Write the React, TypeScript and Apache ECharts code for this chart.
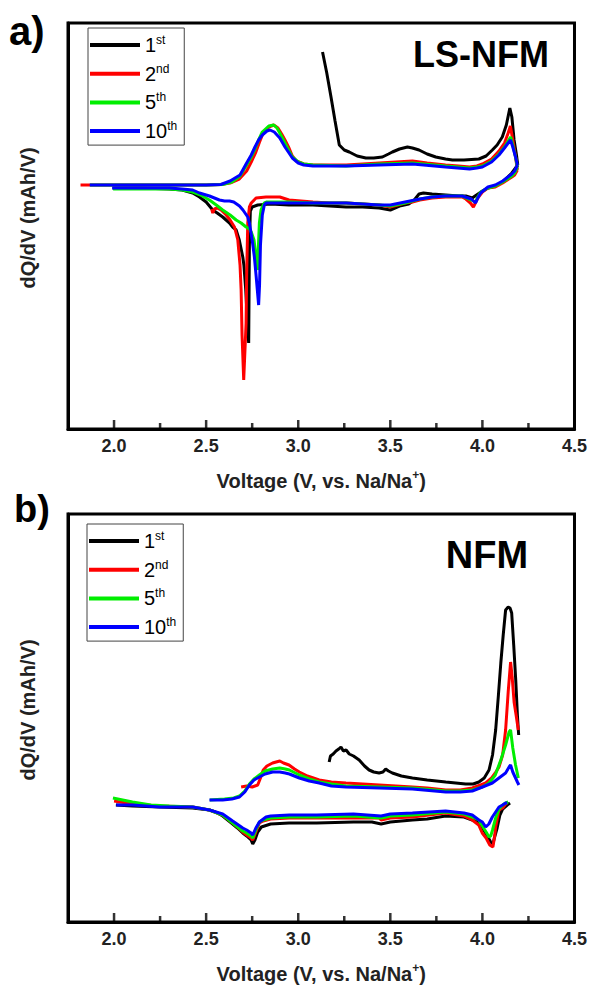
import React, { useEffect, useRef } from "react";
import * as echarts from "echarts";

const FONT = '"Liberation Sans", Arial, sans-serif';

const cycleNames = ["1st", "2nd", "5th", "10th"];
const cycleColors = ["#000000", "#ff0000", "#00ee00", "#0000ff"];
const xMajorTicks = [2.0, 2.5, 3.0, 3.5, 4.0, 4.5];
const xMinorTicks = [2.25, 2.75, 3.25, 3.75, 4.25];
const panelTitles = ["LS-NFM", "NFM"];
const panelTags = ["a)", "b)"];

// ---------- Panel a: LS-NFM (dQ/dV, arbitrary units) ----------
const lsCharge1st = [[3.132,133],[3.155,112],[3.178,88],[3.2,64],[3.223,40],[3.25,35],[3.277,33],[3.32,29],[3.367,27],[3.41,27],[3.457,28],[3.49,31],[3.511,33],[3.55,36],[3.593,38],[3.62,37],[3.656,35],[3.7,31],[3.747,28],[3.8,26],[3.837,25],[3.9,25],[3.981,26],[4.02,29],[4.054,35],[4.08,40],[4.108,48],[4.13,60],[4.149,77],[4.16,68],[4.172,45],[4.185,30],[4.192,20]];
const lsDischarge1st = [[4.192,20],[4.16,12],[4.11,3],[4.07,-1],[4.03,-3],[4.0,-6],[3.96,-11],[3.945,-13],[3.91,-11],[3.873,-11],[3.8,-10],[3.727,-9],[3.68,-8],[3.656,-9],[3.63,-15],[3.6,-19],[3.55,-21],[3.5,-25],[3.44,-23],[3.35,-22],[3.26,-22],[3.17,-21],[3.08,-20],[2.95,-20],[2.85,-19],[2.78,-20],[2.75,-22],[2.74,-26],[2.735,-60],[2.731,-158],[2.725,-140],[2.715,-105],[2.705,-80],[2.699,-72],[2.68,-55],[2.663,-45],[2.644,-42],[2.627,-38],[2.59,-32],[2.56,-28],[2.536,-25],[2.5,-17],[2.464,-12],[2.427,-8],[2.37,-5],[2.3,-4],[2.15,-3],[1.992,-3]];
const lsCharge2nd = [[1.818,0],[2.0,0],[2.3,0],[2.5,0],[2.58,0.5],[2.63,2],[2.68,6],[2.72,14],[2.745,23],[2.77,33],[2.79,43],[2.81,52],[2.84,58],[2.867,60],[2.89,57],[2.91,51],[2.928,45],[2.95,37],[2.968,29],[2.99,24],[3.03,21],[3.08,20],[3.17,20],[3.26,20],[3.35,21],[3.44,22],[3.53,23],[3.62,24],[3.7,22],[3.8,20],[3.87,19],[3.93,18],[3.97,19],[4.0,21],[4.05,26],[4.09,34],[4.12,42],[4.14,52],[4.152,59],[4.165,45],[4.18,28],[4.19,15]];
const lsDischarge2nd = [[4.19,15],[4.175,10],[4.16,8],[4.11,2],[4.07,-2],[4.03,-3],[4.0,-7],[3.975,-13],[3.951,-22],[3.935,-18],[3.91,-14],[3.89,-12],[3.8,-12],[3.727,-13],[3.66,-15],[3.62,-17],[3.58,-18],[3.5,-22],[3.44,-20],[3.35,-19],[3.26,-18],[3.17,-18],[3.08,-17],[2.95,-15],[2.9,-12],[2.87,-12],[2.825,-12],[2.771,-13],[2.745,-18],[2.735,-22],[2.726,-38],[2.72,-90],[2.717,-138],[2.704,-195],[2.695,-150],[2.69,-105],[2.684,-80],[2.672,-55],[2.654,-42],[2.63,-35],[2.609,-30],[2.581,-25],[2.56,-23],[2.545,-24],[2.536,-28],[2.53,-24]];
const lsCharge5th = [[1.87,0],[2.0,0],[2.3,0],[2.5,0],[2.59,0.5],[2.64,3],[2.684,9],[2.72,20],[2.745,28],[2.765,36],[2.785,45],[2.805,53],[2.84,59],[2.867,60],[2.885,57],[2.9,52],[2.928,42],[2.95,34],[2.968,28],[3.0,23],[3.03,21],[3.08,20],[3.26,19],[3.44,21],[3.62,22],[3.8,19],[3.93,17],[3.97,18],[4.0,19],[4.05,24],[4.09,31],[4.12,38],[4.14,44],[4.153,48],[4.165,40],[4.18,28],[4.19,18]];
const lsDischarge5th = [[4.19,18],[4.175,12],[4.16,9],[4.11,3],[4.07,-1],[4.03,-3],[3.99,-7],[3.975,-12],[3.963,-17],[3.94,-15],[3.89,-11],[3.8,-11],[3.727,-12],[3.66,-14],[3.58,-18],[3.5,-21],[3.44,-20],[3.35,-19],[3.26,-18],[3.08,-18],[2.95,-17],[2.9,-17],[2.83,-17],[2.816,-18],[2.798,-25],[2.789,-38],[2.783,-65],[2.78,-85],[2.776,-78],[2.771,-72],[2.76,-55],[2.745,-47],[2.735,-44],[2.717,-42],[2.69,-38],[2.663,-35],[2.63,-30],[2.59,-25],[2.555,-20],[2.518,-15],[2.47,-10],[2.427,-7],[2.37,-5],[2.3,-4],[2.15,-4],[1.995,-4]];
const lsCharge10th = [[1.868,0],[2.0,0],[2.3,0],[2.5,0],[2.58,0.5],[2.63,4],[2.684,10],[2.72,22],[2.745,30],[2.765,38],[2.785,45],[2.805,50],[2.83,54],[2.847,55],[2.87,53],[2.9,47],[2.928,38],[2.95,32],[2.968,27],[3.0,22],[3.03,20],[3.08,19],[3.26,19],[3.44,20],[3.62,21],[3.8,18],[3.93,16],[3.97,17],[4.0,18],[4.05,23],[4.09,30],[4.12,37],[4.14,42],[4.153,45],[4.165,38],[4.18,28],[4.19,20]];
const lsDischarge10th = [[4.19,20],[4.175,14],[4.16,11],[4.11,4],[4.07,0],[4.03,-2],[3.99,-8],[3.975,-13],[3.963,-18],[3.94,-14],[3.89,-11],[3.8,-11],[3.727,-12],[3.66,-14],[3.58,-17],[3.5,-20],[3.44,-20],[3.35,-19],[3.26,-18],[3.08,-18],[2.95,-18],[2.9,-18],[2.825,-18],[2.816,-20],[2.805,-30],[2.795,-60],[2.79,-100],[2.785,-120],[2.778,-105],[2.771,-90],[2.762,-72],[2.75,-55],[2.735,-38],[2.726,-32],[2.7,-25],[2.681,-21],[2.65,-17],[2.627,-16],[2.6,-16],[2.572,-15],[2.518,-11],[2.5,-10],[2.464,-8],[2.427,-5],[2.37,-4],[2.3,-3],[2.15,-3],[1.99,-3]];

// ---------- Panel b: NFM ----------
const nfmCharge1st = [[3.168,38],[3.175,44],[3.19,46],[3.205,49],[3.22,51],[3.232,53],[3.245,49],[3.26,50],[3.277,46],[3.3,44],[3.331,40],[3.36,34],[3.385,30],[3.41,28],[3.439,27],[3.46,28],[3.475,31],[3.49,29],[3.511,27],[3.56,24],[3.62,22],[3.7,20],[3.801,18],[3.909,16],[3.95,16],[3.981,18],[4.01,22],[4.036,30],[4.055,45],[4.072,70],[4.087,105],[4.1,137],[4.113,165],[4.126,190],[4.14,193],[4.15,192],[4.159,187],[4.17,155],[4.181,120],[4.19,85],[4.197,65]];
const nfmDischarge1st = [[4.15,-3],[4.135,-5],[4.11,-9],[4.095,-15],[4.08,-28],[4.065,-38],[4.057,-44],[4.045,-42],[4.03,-37],[4.0,-28],[3.98,-22],[3.945,-20],[3.9,-17],[3.8,-16],[3.7,-19],[3.62,-20],[3.5,-22],[3.45,-24],[3.4,-22],[3.3,-22],[3.1,-23],[2.95,-23],[2.85,-24],[2.8,-27],[2.78,-32],[2.765,-40],[2.753,-44],[2.744,-40],[2.72,-36],[2.699,-33],[2.67,-28],[2.644,-24],[2.59,-16],[2.55,-12],[2.518,-10],[2.427,-8],[2.247,-7],[2.1,-6],[2.01,-5]];
const nfmCharge2nd = [[2.69,13],[2.72,14],[2.75,13],[2.78,15],[2.795,22],[2.81,30],[2.83,34],[2.861,37],[2.88,38],[2.9,39],[2.92,37],[2.95,35],[2.98,31],[3.006,28],[3.05,24],[3.114,20],[3.18,18],[3.259,17],[3.35,16],[3.44,15],[3.53,14],[3.62,13],[3.7,12],[3.801,10],[3.88,10],[3.945,12],[3.99,15],[4.018,17],[4.05,22],[4.07,27],[4.09,33],[4.11,45],[4.126,70],[4.14,108],[4.153,138],[4.162,122],[4.172,98],[4.183,85],[4.195,70]];
const nfmDischarge2nd = [[4.135,-3],[4.126,-4],[4.11,-8],[4.09,-10],[4.072,-27],[4.065,-38],[4.057,-47],[4.048,-46],[4.04,-45],[4.02,-38],[3.999,-33],[3.98,-25],[3.945,-20],[3.9,-16],[3.8,-13],[3.62,-17],[3.5,-18],[3.45,-20],[3.44,-18],[3.3,-18],[3.1,-18],[2.95,-18],[2.85,-19],[2.81,-21],[2.789,-23],[2.77,-32],[2.753,-40],[2.744,-38],[2.72,-35],[2.699,-32],[2.644,-23],[2.59,-15],[2.518,-10],[2.427,-7],[2.247,-6],[2.1,-4],[2.0,-1]];
const nfmCharge5th = [[2.52,0],[2.6,1],[2.65,2],[2.681,4],[2.71,9],[2.735,16],[2.76,21],[2.789,25],[2.82,29],[2.861,31],[2.9,32],[2.93,31],[2.952,30],[3.006,25],[3.06,21],[3.114,18],[3.18,16],[3.259,14],[3.44,13],[3.62,12],[3.801,9],[3.88,9],[3.945,10],[4.0,13],[4.036,17],[4.07,25],[4.1,40],[4.126,55],[4.145,68],[4.153,70],[4.165,52],[4.18,35],[4.195,22]];
const nfmDischarge5th = [[4.14,-2],[4.126,-3],[4.11,-5],[4.09,-9],[4.072,-18],[4.055,-30],[4.045,-36],[4.036,-37],[4.02,-32],[4.0,-26],[3.98,-20],[3.945,-17],[3.9,-14],[3.8,-12],[3.62,-15],[3.5,-16],[3.45,-18],[3.3,-16],[3.1,-17],[2.95,-17],[2.85,-18],[2.81,-20],[2.789,-22],[2.77,-30],[2.753,-38],[2.744,-36],[2.72,-33],[2.699,-31],[2.644,-23],[2.59,-15],[2.518,-10],[2.427,-7],[2.3,-6],[2.2,-5],[2.1,-2],[1.994,2]];
const nfmCharge10th = [[2.518,0],[2.59,0],[2.64,1],[2.681,3],[2.71,8],[2.735,15],[2.76,20],[2.789,23],[2.82,26],[2.861,28],[2.9,28],[2.93,27],[2.952,26],[3.006,22],[3.06,19],[3.114,17],[3.18,14],[3.259,13],[3.44,12],[3.62,11],[3.801,8],[3.88,8],[3.945,9],[4.0,13],[4.054,17],[4.09,22],[4.126,27],[4.145,33],[4.153,35],[4.165,28],[4.18,22],[4.19,18],[4.198,15]];
const nfmDischarge10th = [[4.135,-3],[4.126,-3],[4.11,-5],[4.09,-7],[4.072,-12],[4.054,-17],[4.035,-24],[4.018,-27],[4.0,-22],[3.981,-20],[3.945,-15],[3.9,-13],[3.8,-11],[3.62,-13],[3.5,-14],[3.45,-16],[3.3,-14],[3.1,-15],[2.952,-15],[2.85,-16],[2.825,-17],[2.789,-22],[2.77,-28],[2.753,-35],[2.744,-33],[2.72,-30],[2.699,-28],[2.644,-21],[2.59,-14],[2.518,-10],[2.427,-7],[2.247,-7],[2.1,-5],[2.012,-5]];

const lsCharges = [lsCharge1st, lsCharge2nd, lsCharge5th, lsCharge10th];
const lsDischarges = [lsDischarge1st, lsDischarge2nd, lsDischarge5th, lsDischarge10th];
const nfmCharges = [nfmCharge1st, nfmCharge2nd, nfmCharge5th, nfmCharge10th];
const nfmDischarges = [nfmDischarge1st, nfmDischarge2nd, nfmDischarge5th, nfmDischarge10th];

const yRangeA = [-244, 162];
const yRangeB = [-122, 286];

export default function App() {
  const ref = useRef<HTMLDivElement>(null);

  useEffect(() => {
    if (!ref.current) return;
    const chart = echarts.init(ref.current, null, { renderer: "svg" });

    const grids = [
      { left: 68, top: 23, width: 507, height: 406 },
      { left: 68, top: 514, width: 507, height: 408 },
    ].map((g) => ({ ...g, show: true, borderColor: "#000", borderWidth: 3 }));

    const axisName = "Voltage (V, vs. Na/Na{sup|+})";
    const xAx = (gridIndex: number) => ({
      type: "value",
      gridIndex,
      min: 1.75,
      max: 4.5,
      position: "bottom",
      name: axisName,
      nameLocation: "middle",
      nameGap: 40,
      nameTextStyle: {
        fontFamily: FONT,
        fontSize: 20,
        fontWeight: "bold",
        color: "#222",
        lineHeight: 24,
        rich: {
          sup: { fontFamily: FONT, fontSize: 12, fontWeight: "bold", color: "#222", verticalAlign: "top", lineHeight: 8 },
        },
      },
      axisLine: { show: true, onZero: false, lineStyle: { color: "#000", width: 3 } },
      splitLine: { show: false },
      axisTick: { show: false },
      axisLabel: {
        show: true,
        customValues: xMajorTicks,
        margin: 8,
        fontFamily: FONT,
        fontSize: 18,
        fontWeight: "bold",
        color: "#222",
        formatter: (v: number) => v.toFixed(1),
      },
    });
    const yAx = (gridIndex: number, range: number[]) => ({
      type: "value",
      gridIndex,
      min: range[0],
      max: range[1],
      name: "dQ/dV (mAh/V)",
      nameLocation: "middle",
      nameGap: 30,
      nameTextStyle: {
        fontFamily: FONT,
        fontSize: 20,
        fontWeight: "bold",
        color: "#222",
        padding: [0, 0, 0, 16],
      },
      axisLine: { show: true, onZero: false, lineStyle: { color: "#000", width: 3 } },
      axisTick: { show: false },
      axisLabel: { show: false },
      splitLine: { show: false },
    });

    const mk = (name: string, i: number, data: number[][], xi: number, yi: number) => ({
      type: "line",
      name,
      data,
      xAxisIndex: xi,
      yAxisIndex: yi,
      showSymbol: false,
      symbol: "none",
      color: cycleColors[i],
      lineStyle: { color: cycleColors[i], width: 3 },
      emphasis: { disabled: true },
      z: 2 + i,
    });

    // inward tick marks on the bottom axis, placed through the axis scale
    const tickSeries = (ticks: number[], yMin: number, h: number, xi: number, yi: number) => ({
      type: "scatter",
      name: "_ticks",
      data: ticks.map((v) => [v, yMin]),
      xAxisIndex: xi,
      yAxisIndex: yi,
      symbol: "rect",
      symbolSize: [2.5, h],
      symbolOffset: [0, -h / 2],
      itemStyle: { color: "#000" },
      silent: true,
      clip: false,
      emphasis: { disabled: true },
      z: 10,
    });

    const series: any[] = [];
    cycleNames.forEach((n, i) => {
      series.push(mk(n, i, lsCharges[i], 0, 0));
      series.push(mk(n, i, lsDischarges[i], 0, 0));
    });
    cycleNames.forEach((n, i) => {
      series.push(mk(n, i, nfmCharges[i], 1, 1));
      series.push(mk(n, i, nfmDischarges[i], 1, 1));
    });
    series.push(tickSeries(xMajorTicks, yRangeA[0], 9, 0, 0));
    series.push(tickSeries(xMinorTicks, yRangeA[0], 6, 0, 0));
    series.push(tickSeries(xMajorTicks, yRangeB[0], 9, 1, 1));
    series.push(tickSeries(xMinorTicks, yRangeB[0], 6, 1, 1));

    const legendBase = (left: number, top: number) => ({
      show: true,
      orient: "vertical",
      left,
      top,
      data: cycleNames,
      icon: "rect",
      itemWidth: 50,
      itemHeight: 4,
      itemGap: 7.7,
      padding: [6, 7, 4, 2],
      borderColor: "#444",
      borderWidth: 1,
      selectedMode: false,
      formatter: (name: string) => {
        const m = name.match(/^(\d+)(\D+)$/);
        return m ? `{n|${m[1]}}{s|${m[2]}}` : name;
      },
      textStyle: {
        fontFamily: FONT,
        color: "#000",
        rich: {
          n: { fontFamily: FONT, fontSize: 20, color: "#000", lineHeight: 22 },
          s: { fontFamily: FONT, fontSize: 12, color: "#000", lineHeight: 6, verticalAlign: "top" },
        },
      },
    });

    const txt = (text: string, x: number, y: number, size: number, align: string) => ({
      type: "text",
      x,
      y,
      style: {
        text,
        fontFamily: FONT,
        fontSize: size,
        fontWeight: "bold",
        fill: "#000",
        align,
        verticalAlign: "middle",
        textAlign: align,
        textVerticalAlign: "middle",
      },
    });

    chart.setOption({
      animation: false,
      backgroundColor: "#fff",
      grid: grids,
      xAxis: [xAx(0), xAx(1)],
      yAxis: [yAx(0, yRangeA), yAx(1, yRangeB)],
      legend: [legendBase(88, 28), legendBase(87, 524)],
      graphic: [
        txt(panelTags[0], 9, 31, 40, "left"),
        txt(panelTags[1], 14, 509, 38, "left"),
        txt(panelTitles[0], 481, 54, 36, "center"),
        txt(panelTitles[1], 487, 555, 38, "center"),
      ],
      series,
    });

    return () => chart.dispose();
  }, []);

  return (
    <div
      ref={ref}
      style={{ position: "absolute", left: 0, top: 0, width: 590, height: 988, background: "#fff" }}
    />
  );
}
